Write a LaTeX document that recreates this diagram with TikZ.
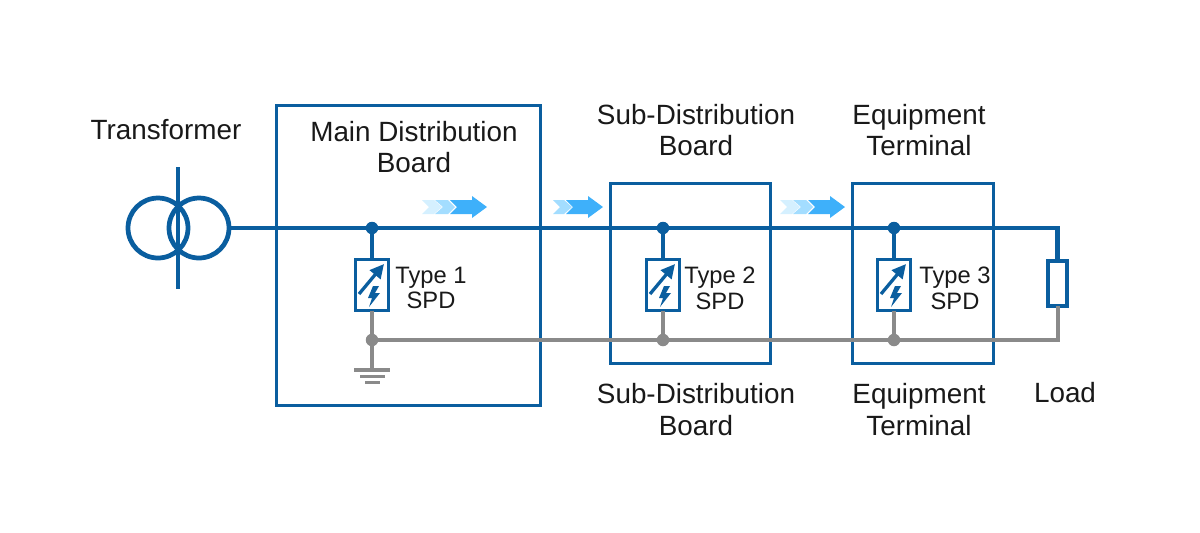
\documentclass[tikz,border=0pt]{standalone}
\usepackage{fontspec}
\setmainfont{Liberation Sans}
\usetikzlibrary{arrows.meta}
\definecolor{wireblue}{HTML}{0A5E9F}
\definecolor{wiregray}{HTML}{8A8A8A}
\definecolor{flowa}{HTML}{D5F0FF}
\definecolor{flowb}{HTML}{A3DDFF}
\definecolor{flowc}{HTML}{3EB0FA}
\tikzset{
  board/.style={draw=wireblue,line width=0.06cm,minimum height=3.62cm,inner sep=0,outer sep=0},
  coil/.style={draw=wireblue,line width=0.095cm,circle,minimum size=1.2cm,inner sep=0,outer sep=0},
  live/.style={draw=wireblue,line width=0.09cm,line join=miter},
  neutral/.style={draw=wiregray,line width=0.08cm,line join=miter},
  spdbox/.style={draw=wireblue,fill=white,line width=0.065cm,minimum width=0.66cm,minimum height=1.02cm,inner sep=0,outer sep=0},
  loadbox/.style={draw=wireblue,fill=white,line width=0.085cm,minimum width=0.38cm,minimum height=0.9cm,inner sep=0,outer sep=0},
  bluedot/.style={circle,fill=wireblue,minimum size=0.25cm,inner sep=0,outer sep=0},
  graydot/.style={circle,fill=wiregray,minimum size=0.25cm,inner sep=0,outer sep=0},
  biglabel/.style={font=\fontsize{15.85pt}{17.9pt}\selectfont,align=center,inner sep=0,text=black!90},
  smalllabel/.style={font=\fontsize{13.5pt}{14.7pt}\selectfont,align=center,inner sep=0,text=black!90},
  pics/spdicon/.style={code={
    \draw[wireblue,line width=0.065cm,-{Triangle[length=0.28cm,width=0.27cm]}] (-13,21) -- (12,-9);
    \fill[wireblue] (1,13) -- (7,13) -- (3,20) -- (8,20) -- (-3,34) -- (0,25) -- (-4,25) -- cycle;
  }},
  pics/flowlong/.style={code={
    \fill[flowa] (0,-7) -- (12,-7) -- (20,0) -- (12,7) -- (0,7) -- (7,0) -- cycle;
    \fill[flowb] (13,-7) -- (26,-7) -- (33,0) -- (26,7) -- (13,7) -- (21,0) -- cycle;
    \fill[flowc] (28,-7) -- (50,-7) -- (50,-11) -- (65,0) -- (50,11) -- (50,7) -- (28,7) -- (35,0) -- cycle;
  }},
  pics/flowshort/.style={code={
    \fill[flowb] (0,-7) -- (11,-7) -- (19,0) -- (11,7) -- (0,7) -- (7,0) -- cycle;
    \fill[flowc] (13,-7) -- (35,-7) -- (35,-11) -- (50,0) -- (35,11) -- (35,7) -- (13,7) -- (20,0) -- cycle;
  }}
}
\begin{document}
\begin{tikzpicture}[x=0.02cm,y=-0.02cm]
\useasboundingbox (0,0) rectangle (1200,532);
% boards
\node[board,minimum width=5.3cm,minimum height=6.02cm] (mdb) at (408.5,255.5) {};
\node[board,minimum width=3.22cm] (sdb) at (690.5,273.5) {};
\node[board,minimum width=2.84cm] (etb) at (923,273.5) {};
% transformer
\coordinate (tTop) at (178,167);
\coordinate (tBot) at (178,289);
\draw[live,line width=0.08cm] (tTop) -- (tBot);
\node[coil] (coilA) at (158,228) {};
\node[coil] (coilB) at (199,228) {};
% wiring coordinates
\coordinate (j1) at (372,228);
\coordinate (j2) at (663,228);
\coordinate (j3) at (894,228);
\coordinate (g1) at (372,340);
\coordinate (g2) at (663,340);
\coordinate (g3) at (894,340);
\node[spdbox] (spd1) at (372,285) {};
\node[spdbox] (spd2) at (663,285) {};
\node[spdbox] (spd3) at (894,285) {};
\coordinate (cornerT) at (1057.5,228);
\coordinate (cornerB) at (1057.5,340);
\coordinate (gnd) at (372,370);
\node[loadbox] (load) at (1057.5,283.5) {};
% wires
\draw[neutral] (spd1.south) -- (gnd);
\draw[neutral] (spd2.south) -- (g2);
\draw[neutral] (spd3.south) -- (g3);
\draw[neutral] (g1) -- (cornerB) -- (load.south);
\draw[live] (coilB.east) -- (cornerT) -- (load.north);
\draw[live] (j1) -- (spd1.north);
\draw[live] (j2) -- (spd2.north);
\draw[live] (j3) -- (spd3.north);
% junction dots
\node[bluedot] (d1) at (j1) {};
\node[bluedot] (d2) at (j2) {};
\node[bluedot] (d3) at (j3) {};
\node[graydot] (e1) at (g1) {};
\node[graydot] (e2) at (g2) {};
\node[graydot] (e3) at (g3) {};
% ground
\draw[wiregray,line width=0.065cm] (354,370) -- (390,370);
\draw[wiregray,line width=0.065cm] (360,376.5) -- (385,376.5);
\draw[wiregray,line width=0.065cm] (365,382.5) -- (380,382.5);
% spd icons
\pic at (372,273) {spdicon};
\pic at (663,273) {spdicon};
\pic at (894,273) {spdicon};
% flow arrows
\pic at (422,207) {flowlong};
\pic at (553,207) {flowshort};
\pic at (780,207) {flowlong};
% labels
\node[biglabel] (tTransformer) at (166,130) {Transformer};
\node[biglabel] (tMain) at (414,147) {Main Distribution\\Board};
\node[biglabel] (tSubA) at (696,130) {Sub-Distribution\\Board};
\node[biglabel] (tEqA) at (919,130) {Equipment\\Terminal};
\node[biglabel] (tSubB) at (696,409.5) {Sub-Distribution\\Board};
\node[biglabel] (tEqB) at (919,409.5) {Equipment\\Terminal};
\node[biglabel] (tLoad) at (1065,393) {Load};
\node[smalllabel] (t1) at (431,288) {Type 1\\SPD};
\node[smalllabel] (t2) at (720,288) {Type 2\\SPD};
\node[smalllabel] (t3) at (955,288) {Type 3\\SPD};
\end{tikzpicture}
\end{document}
